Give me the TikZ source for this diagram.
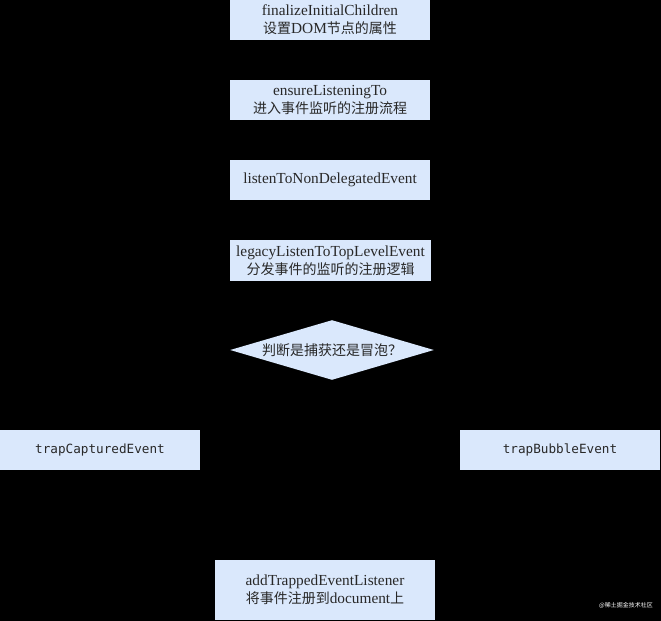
\documentclass[tikz,border=0pt]{standalone}
\usepackage{fontspec}
\setmainfont{Liberation Serif}
\setmonofont{DejaVu Sans Mono}
\newfontfamily\cjk{Noto Sans CJK SC}
\newcommand{\zh}[1]{{\cjk\fontsize{10.5}{13.5}\selectfont #1}}
\usetikzlibrary{shapes.geometric}
\tikzset{every picture/.style={line width=0.75pt}}
\definecolor{boxfill}{RGB}{218,232,252}
\definecolor{boxtext}{RGB}{40,40,40}
\tikzset{
  stepbox/.style={fill=boxfill, text=boxtext, draw=none, align=center,
    minimum width=150pt, minimum height=30pt, inner sep=1pt,
    font=\fontsize{11.5}{13.5}\selectfont},
  codebox/.style={stepbox, font=\ttfamily\fontsize{9.5}{11}\selectfont},
  decision/.style={diamond, fill=boxfill, text=boxtext, draw=none, aspect=3.4,
    minimum width=153pt, minimum height=45pt, inner sep=0pt,
    font=\cjk\fontsize{10.5}{12}\selectfont},
  flow/.style={draw=black, ->},
}

\begin{document}
\begin{tikzpicture}[x=0.75pt,y=0.75pt,yscale=-1,xscale=1]
%Background
\fill [black] (0,0) rectangle (661,621);

%Shape: Rectangle [finalize]
\node (finalize) at (330,20) [stepbox] {finalizeInitialChildren\\\zh{设置}DOM\zh{节点的属性}};
%Shape: Rectangle [ensure]
\node (ensure) at (330,100) [stepbox] {ensureListeningTo\\\zh{进入事件监听的注册流程}};
%Shape: Rectangle [nondeleg]
\node (nondeleg) at (330,180) [stepbox] {listenToNonDelegatedEvent};
%Shape: Rectangle [legacy]
\node (legacy) at (330.5,260.5) [stepbox, minimum width=151pt, minimum height=31pt] {legacyListenToTopLevelEvent\\\zh{分发事件的监听的注册逻辑}};
%Shape: Diamond [capbub]
\node (capbub) at (332,350) [decision] {判断是捕获还是冒泡？};
%Shape: Rectangle [captured]
\node (captured) at (100,450) [codebox] {trapCapturedEvent};
%Shape: Rectangle [bubble]
\node (bubble) at (560,450) [codebox] {trapBubbleEvent};
%Shape: Rectangle [addlistener]
\node (addlistener) at (325,590) [stepbox, minimum width=165pt, minimum height=45pt] {addTrappedEventListener\\\zh{将事件注册到}document\zh{上}};

%Straight Lines
\draw [flow] (finalize) -- (ensure);
\draw [flow] (ensure) -- (nondeleg);
\draw [flow] (nondeleg) -- (legacy);
\draw [flow] (legacy) -- (capbub);
\draw [flow] (capbub.west) -| (captured.north);
\draw [flow] (capbub.east) -| (bubble.north);
\draw [flow] (captured.south) |- (addlistener.west);
\draw [flow] (bubble.south) |- (addlistener.east);

% Text Node
\node (mark) at (626,605) [text=white, font=\cjk\fontsize{4.5}{5}\selectfont, inner sep=0.75pt] {@稀土掘金技术社区};

\end{tikzpicture}
\end{document}
